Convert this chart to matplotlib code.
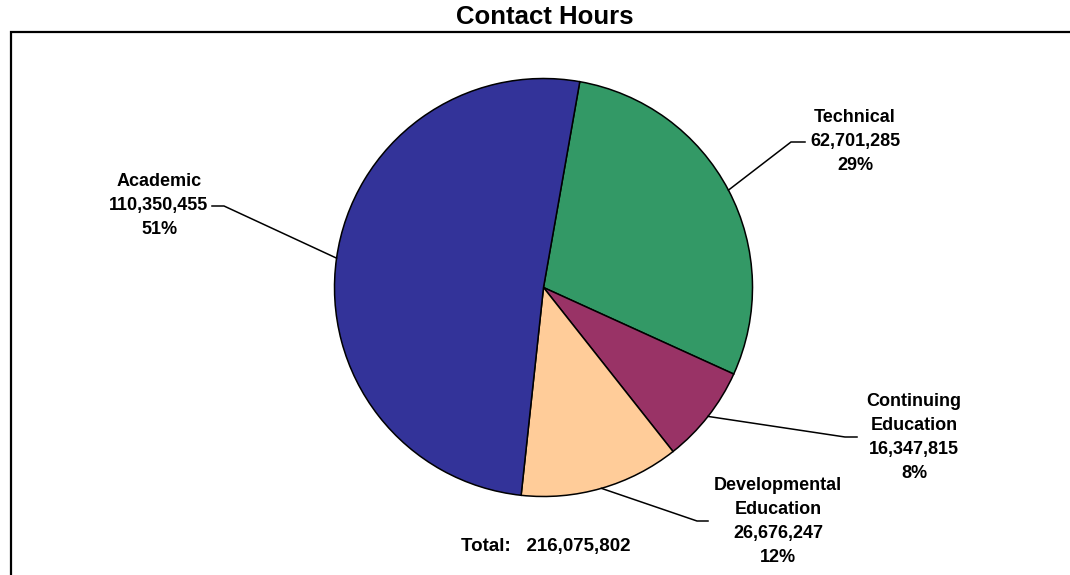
import matplotlib
matplotlib.use("Agg")
import matplotlib.pyplot as plt
import numpy as np

plt.rcParams['font.family'] = ['Liberation Sans', 'DejaVu Sans']

# data (clockwise from the top)
categories = ["Technical", "Continuing\nEducation", "Developmental\nEducation", "Academic"]
hours = [62701285, 16347815, 26676247, 110350455]
colors = ["#339966", "#993366", "#FFCC99", "#333399"]

W, H = 1070, 575

# label layout in pixels (x centre, y of first line) and leader elbow / end
label_pos = [(855, 118), (914, 402), (778, 486), (159, 182)]
elbows = [((791, 142), (805, 142)), ((845, 437), (857, 437)),
          ((697, 521), (708, 521)), ((224, 206), (212, 206))]
line_step = 23.8


def Y(y):
    return H - y


fig = plt.figure(figsize=(W / 100, H / 100), dpi=100)
ax = fig.add_axes([0, 0, 1, 1])

cx, cy, r = 543.5, Y(287.5), 209
wedges, _ = ax.pie(hours, colors=colors, startangle=80, counterclock=False,
                   radius=r, center=(cx, cy), frame=True,
                   wedgeprops=dict(edgecolor="black", linewidth=1.1))

ax.set_xlim(0, W)
ax.set_ylim(0, H)
ax.set_aspect("auto")
ax.axis("off")

total = sum(hours)
for w, name, val, (tx, ty), (elb, end) in zip(wedges, categories, hours, label_pos, elbows):
    mid = np.deg2rad((w.theta1 + w.theta2) / 2)
    px, py = cx + r * np.cos(mid), cy + r * np.sin(mid)
    ax.plot([px, elb[0], end[0]], [py, Y(elb[1]), Y(end[1])], color="black", lw=1.1,
            solid_joinstyle="miter")
    lines = name.split("\n") + ["{:,}".format(val), "{:.0f}%".format(val / total * 100)]
    for i, s in enumerate(lines):
        ax.text(tx, Y(ty + i * line_step), s, ha="center", va="center",
                fontsize=13, fontweight="bold", color="black")

ax.text(546, Y(547), "Total:   {:,}".format(total), ha="center", va="center",
        fontsize=13.5, fontweight="bold", color="black")

ax.text(545, Y(17), "Contact Hours", ha="center", va="center",
        fontsize=18.5, fontweight="bold", color="black")

# chart border (runs off right and bottom edges)
ax.plot([10.5, 10.5, W + 10], [-10, Y(31.5), Y(31.5)], color="black", lw=1.6,
        clip_on=False, solid_joinstyle="miter")

fig.savefig("out.png", dpi=100)
